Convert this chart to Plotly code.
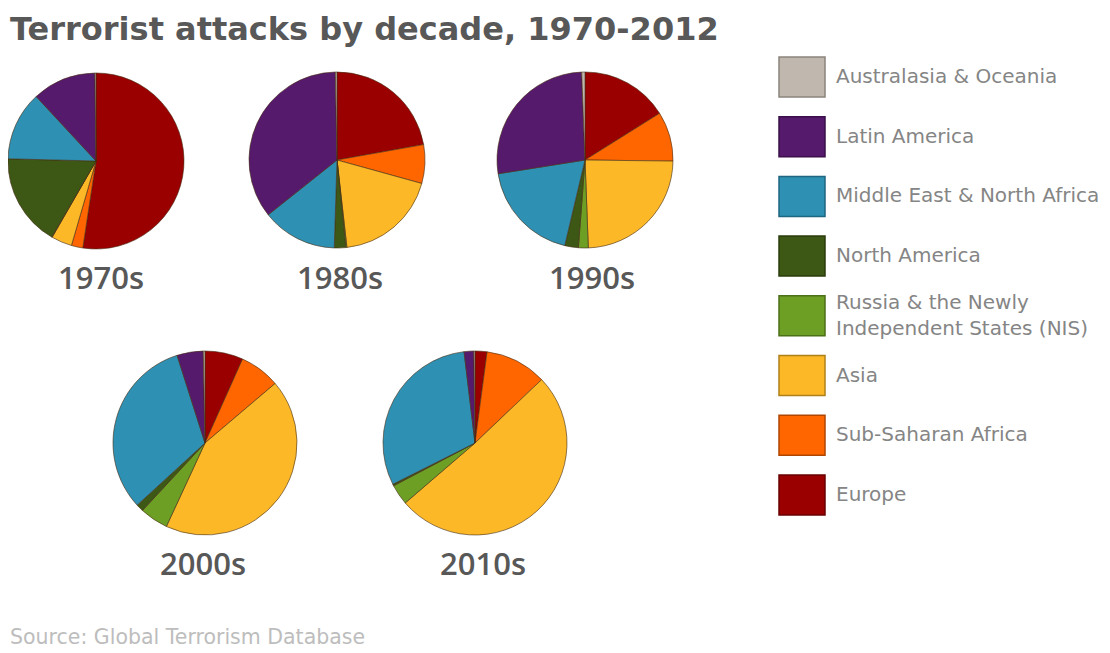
import plotly.graph_objects as go

regions = ["Europe", "Sub-Saharan Africa", "Asia", "Russia & the Newly Independent States (NIS)",
           "North America", "Middle East & North Africa", "Latin America", "Australasia & Oceania"]
colors = ["#9a0000", "#ff6600", "#fdb827", "#6e9f25", "#3d5714", "#2e90b3", "#561a6c", "#c0b8ae"]

decades = ["1970s", "1980s", "1990s", "2000s", "2010s"]
share_1970s = [52.4, 2.1, 3.8, 0.1, 17.0, 12.7, 11.7, 0.2]
share_1980s = [22.2, 7.1, 18.9, 0.2, 2.1, 13.8, 35.4, 0.3]
share_1990s = [16.1, 9.1, 24.2, 1.8, 2.5, 18.8, 26.9, 0.6]
share_2000s = [6.7, 7.1, 43.1, 5.0, 1.3, 31.9, 4.6, 0.3]
share_2010s = [2.1, 10.8, 50.8, 3.6, 0.3, 30.5, 1.7, 0.2]
shares = [share_1970s, share_1980s, share_1990s, share_2000s, share_2010s]

legend_order = ["Australasia & Oceania", "Latin America", "Middle East & North Africa", "North America",
                "Russia & the Newly<br>Independent States (NIS)", "Asia", "Sub-Saharan Africa", "Europe"]
legend_colors = ["#c0b8ae", "#561a6c", "#2e90b3", "#3d5714", "#6e9f25", "#fdb827", "#ff6600", "#9a0000"]
legend_edges = ["#8a847c", "#3a0f4a", "#1f6680", "#2a3c0d", "#4c6f19", "#b08018", "#b04600", "#6a0000"]

# page has an 8px body margin: work in window pixels, convert to figure pixels
OX, OY = 8, 8
W, H = 1102, 645


def px(x):
    return min(1.0, max(0.0, (x - OX) / W))


def py(y):
    return min(1.0, max(0.0, 1 - (y - OY) / H))


pies_px = [(96, 161, 88), (337, 160, 88), (585, 160, 88), (205, 443, 92), (475, 443, 92)]
labels_px = [(101, 277), (340, 277), (592, 277), (203, 563), (483, 563)]

fig = go.Figure()
for name, vals, (cx, cy, r) in zip(decades, shares, pies_px):
    fig.add_trace(go.Pie(
        labels=regions, values=vals, sort=False, direction="clockwise", rotation=0,
        marker=dict(colors=colors, line=dict(color="rgba(70,45,20,0.6)", width=1)),
        textinfo="none", hoverinfo="label+percent", name=name, showlegend=False,
        domain=dict(x=[px(cx - r), px(cx + r)], y=[py(cy + r), py(cy - r)]),
    ))

annotations = []
for name, (lx, ly) in zip(decades, labels_px):
    annotations.append(dict(x=px(lx), y=py(ly), xref="paper", yref="paper", text=name,
                            showarrow=False, xanchor="center", yanchor="middle",
                            font=dict(family="Open Sans", size=31, color="#585858", weight=600)))

shapes = []
for i, (lab, c, e) in enumerate(zip(legend_order, legend_colors, legend_edges)):
    top = 57 + i * 59.7
    shapes.append(dict(type="rect", xref="paper", yref="paper",
                       x0=px(779), x1=px(825), y0=py(top + 40), y1=py(top),
                       fillcolor=c, line=dict(color=e, width=1.5)))
    annotations.append(dict(x=px(834), y=py(top + 19), xref="paper", yref="paper", text=lab,
                            showarrow=False, xanchor="left", yanchor="middle", align="left",
                            font=dict(family="DejaVu Sans", size=20, color="#858585")))

annotations.append(dict(x=px(6), y=1.0, xref="paper", yref="paper",
                        text="Terrorist attacks by decade, 1970-2012", showarrow=False,
                        xanchor="left", yanchor="top",
                        font=dict(family="DejaVu Sans", size=32, color="#585858", weight=700)))
annotations.append(dict(x=0.0, y=py(637), xref="paper", yref="paper",
                        text="Source: Global Terrorism Database", showarrow=False,
                        xanchor="left", yanchor="middle",
                        font=dict(family="DejaVu Sans", size=20.5, color="#bdbdbd")))

fig.update_layout(width=W, height=H, margin=dict(l=0, r=0, t=0, b=0),
                  paper_bgcolor="white", plot_bgcolor="white",
                  annotations=annotations, shapes=shapes, showlegend=False)
fig.write_html("out.html")
